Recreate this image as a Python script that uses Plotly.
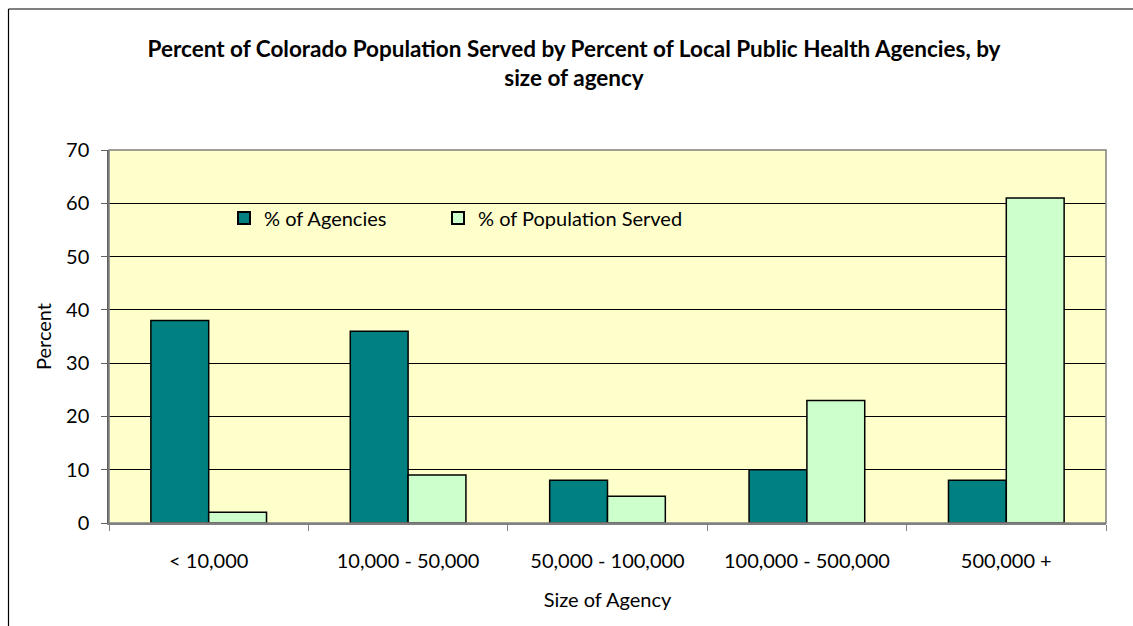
import plotly.graph_objects as go

categories = ["< 10,000", "10,000 - 50,000", "50,000 - 100,000", "100,000 - 500,000", "500,000 +"]
pct_agencies = [38, 36, 8, 10, 8]
pct_population = [2, 9, 5, 23, 61]
series_names = ["% of Agencies", "% of Population Served"]
y_ticks = [0, 10, 20, 30, 40, 50, 60, 70]

FONT = "Lato"
OFF = 0  # body margin removed by post_script

fig = go.Figure()
fig.add_trace(go.Bar(x=categories, y=pct_agencies, name=series_names[0], legend="legend",
                     marker=dict(color="#008080", line=dict(color="#000000", width=1.5))))
fig.add_trace(go.Bar(x=categories, y=pct_population, name=series_names[1], legend="legend2",
                     marker=dict(color="#CCFFCC", line=dict(color="#000000", width=1.5))))

W, H = 1133, 626
L, T = 109 - OFF, 150 - OFF
R = W - (1106 - OFF)
B = H - (523 - OFF)
pw, ph = W - L - R, H - T - B

def px_x(p):  # page x -> paper
    return (p - OFF - L) / pw

def px_y(p):  # page y -> paper
    return (H - B - (p - OFF)) / ph

legend_common = dict(orientation="h", y=px_y(218), xanchor="left", yanchor="middle",
                     bgcolor="rgba(0,0,0,0)", font=dict(family=FONT, size=20),
                     itemsizing="constant")

fig.update_layout(
    width=W, height=H,
    margin=dict(l=L, r=R, t=T, b=B, pad=0),
    paper_bgcolor="white",
    plot_bgcolor="#FFFFCC",
    barmode="group", bargap=0.42, bargroupgap=0,
    font=dict(family=FONT, size=20, color="#000000"),
    title=dict(text="<b>Percent of Colorado Population Served by Percent of Local Public Health Agencies, by<br>size of agency</b>",
               x=px_x(574), xref="paper", xanchor="center", y=1 - (56.5 - OFF) / H, yanchor="middle",
               font=dict(family=FONT, size=22.5, color="#000000")),
    legend=dict(x=px_x(224), **legend_common),
    legend2=dict(x=px_x(438), **legend_common),
    showlegend=True,
    xaxis=dict(showgrid=False, showline=True, linecolor="#808080", linewidth=1.5,
               ticks="outside", ticklen=6, tickcolor="#808080", tickson="boundaries",
               ticklabelstandoff=19,
               title=dict(text="Size of Agency", standoff=22,
                          font=dict(family=FONT, size=20))),
    yaxis=dict(range=[0, 70], tickvals=y_ticks, showgrid=True, gridcolor="#000000", gridwidth=1,
               showline=True, linecolor="#606060", linewidth=1.5, ticks="outside", ticklen=6,
               tickcolor="#606060", zeroline=False, ticklabelstandoff=8,
               title=dict(text="Percent", standoff=9, font=dict(family=FONT, size=20))),
    shapes=[
        dict(type="rect", xref="paper", yref="paper", x0=px_x(202), x1=px_x(716),
             y0=px_y(265), y1=px_y(190), fillcolor="#FFFFCC", line=dict(width=0), layer="between"),
        dict(type="rect", xref="paper", yref="paper", x0=0, x1=1, y0=0, y1=1,
             line=dict(color="#808080", width=1.5), layer="above"),
        dict(type="line", xref="paper", yref="paper", x0=px_x(8.5), x1=px_x(1133),
             y0=px_y(9), y1=px_y(9), line=dict(color="#000000", width=1.2)),
        dict(type="line", xref="paper", yref="paper", x0=px_x(8.5), x1=px_x(8.5),
             y0=px_y(9), y1=px_y(626), line=dict(color="#000000", width=1.2)),
    ],
)

fig.write_html("out.html", config={"displayModeBar": False},
               post_script="document.body.style.margin='0';document.body.style.overflow='hidden';")
